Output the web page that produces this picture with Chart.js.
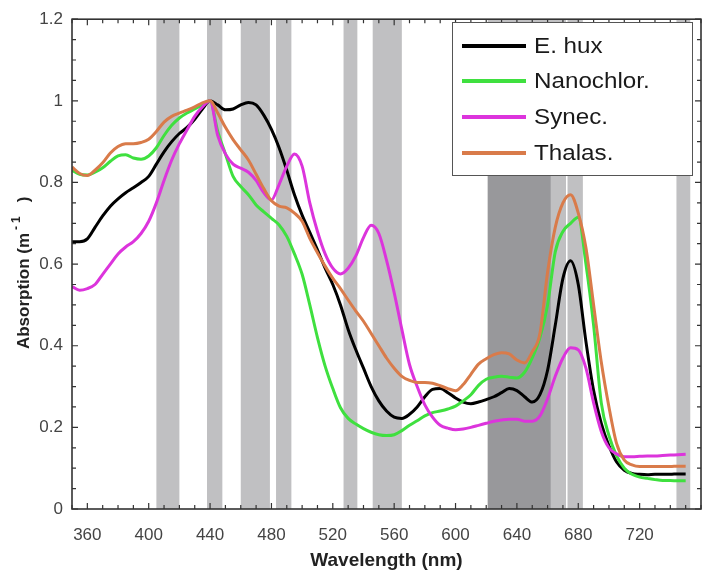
<!DOCTYPE html>
<html>
<head>
<meta charset="utf-8">
<script src="https://cdn.jsdelivr.net/npm/chart.js@4.4.1/dist/chart.umd.min.js"></script>
<style>
html,body{margin:0;padding:0;background:#fff;}
#wrap{width:704px;height:575px;}
</style>
</head>
<body>
<div id="wrap"><canvas id="c" width="704" height="575"></canvas></div>
<script>
// ---------- data ----------
const wavelengths = [
  350,355,360,365,370,375,380,385,390,395,
  400,405,410,415,420,425,430,435,440,445,
  450,455,460,465,470,475,480,485,490,495,
  500,505,510,515,520,525,530,535,540,545,
  550,555,560,565,570,575,580,585,590,595,
  600,605,610,615,620,625,630,635,640,645,
  650,655,660,665,670,675,680,685,690,695,
  700,705,710,715,720,725,730,735,740,745,
  750
];
const eHux = [
  0.655,0.655,0.662,0.690,0.718,0.742,0.760,0.775,0.787,0.800,
  0.815,0.845,0.875,0.900,0.920,0.935,0.955,0.980,1.000,0.990,
  0.978,0.980,0.990,0.996,0.990,0.965,0.930,0.885,0.830,0.770,
  0.720,0.678,0.635,0.590,0.550,0.500,0.440,0.390,0.345,0.300,
  0.265,0.240,0.225,0.222,0.232,0.250,0.275,0.293,0.295,0.285,
  0.272,0.262,0.258,0.262,0.268,0.275,0.285,0.295,0.290,0.275,
  0.262,0.280,0.340,0.450,0.565,0.608,0.550,0.410,0.290,0.210,
  0.155,0.115,0.095,0.087,0.085,0.084,0.085,0.085,0.085,0.086,
  0.086
];
const nanochlor = [
  0.830,0.820,0.818,0.825,0.836,0.852,0.865,0.868,0.860,0.857,
  0.865,0.885,0.915,0.940,0.958,0.970,0.980,0.990,1.000,0.925,
  0.870,0.815,0.790,0.770,0.745,0.728,0.712,0.696,0.668,0.625,
  0.575,0.500,0.420,0.350,0.295,0.248,0.222,0.208,0.197,0.188,
  0.182,0.180,0.182,0.192,0.205,0.216,0.228,0.236,0.240,0.245,
  0.252,0.265,0.280,0.303,0.318,0.323,0.325,0.323,0.321,0.335,
  0.370,0.420,0.500,0.630,0.680,0.700,0.715,0.600,0.450,0.260,
  0.180,0.130,0.100,0.085,0.078,0.075,0.072,0.070,0.070,0.069,
  0.069
];
const synec = [
  0.545,0.536,0.540,0.550,0.575,0.600,0.625,0.642,0.655,0.675,
  0.705,0.750,0.805,0.855,0.895,0.929,0.962,0.985,1.000,0.915,
  0.870,0.845,0.835,0.825,0.805,0.775,0.757,0.795,0.840,0.870,
  0.840,0.750,0.680,0.625,0.590,0.576,0.590,0.620,0.665,0.695,
  0.675,0.610,0.530,0.440,0.354,0.300,0.255,0.225,0.205,0.198,
  0.194,0.196,0.200,0.205,0.210,0.215,0.218,0.220,0.220,0.215,
  0.215,0.228,0.270,0.325,0.370,0.395,0.390,0.345,0.260,0.190,
  0.150,0.135,0.128,0.128,0.129,0.130,0.130,0.131,0.132,0.133,
  0.134
];
const thalas = [
  0.838,0.822,0.817,0.830,0.848,0.872,0.888,0.895,0.895,0.898,
  0.906,0.925,0.948,0.962,0.970,0.977,0.985,0.995,1.000,0.970,
  0.935,0.905,0.880,0.855,0.820,0.785,0.755,0.742,0.738,0.725,
  0.705,0.663,0.628,0.595,0.565,0.540,0.512,0.485,0.460,0.430,
  0.400,0.370,0.345,0.325,0.315,0.310,0.310,0.308,0.302,0.295,
  0.290,0.305,0.330,0.355,0.368,0.378,0.383,0.380,0.365,0.358,
  0.385,0.430,0.580,0.690,0.750,0.770,0.725,0.640,0.500,0.360,
  0.250,0.160,0.120,0.108,0.104,0.104,0.104,0.104,0.104,0.105,
  0.105
];
const seriesNames = ['E. hux','Nanochlor.','Synec.','Thalas.'];
const xTickValues = [360,400,440,480,520,560,600,640,680,720];
const yTickValues = [0,0.2,0.4,0.6,0.8,1,1.2];
const lightBands = [[405,420],[438,448],[460,479],[483,493],[527,536],[546,565],[621,672],[673,683],[744,753]];
const darkBands = [[621,662]];

// ---------- styles ----------
const seriesColors = ['#000000','#3fe03f','#dc34dc','#d97b4a'];
const FONT = '"Liberation Sans", Arial, Helvetica, sans-serif';

const seriesValues = [eHux, nanochlor, synec, thalas];
const datasets = seriesValues.map((vals, i) => ({
  label: seriesNames[i],
  data: wavelengths.map((w, j) => ({x: w, y: vals[j]})),
  borderColor: seriesColors[i],
  backgroundColor: seriesColors[i],
  borderWidth: 3,
  pointRadius: 0,
  fill: false,
  cubicInterpolationMode: 'monotone',
  order: seriesValues.length - i
}));

const bandsPlugin = {
  id: 'bands',
  beforeDatasetsDraw(chart) {
    const {ctx, chartArea: a, scales: {x, y}} = chart;
    ctx.save();
    ctx.beginPath(); ctx.rect(a.left, a.top, a.right - a.left, a.bottom - a.top); ctx.clip();
    ctx.fillStyle = '#c0c0c2';
    for (const [s, e] of lightBands) {
      const x0 = x.getPixelForValue(s), x1 = x.getPixelForValue(e);
      ctx.fillRect(x0, a.top, x1 - x0, a.bottom - a.top);
    }
    ctx.fillStyle = '#98989b';
    const yTop = y.getPixelForValue(1.0);
    for (const [s, e] of darkBands) {
      const x0 = x.getPixelForValue(s), x1 = x.getPixelForValue(e);
      ctx.fillRect(x0, yTop, x1 - x0, a.bottom - yTop);
    }
    ctx.restore();
  }
};

const framePlugin = {
  id: 'frame',
  afterDatasetsDraw(chart) {
    const {ctx, chartArea: a, scales: {x, y}} = chart;
    ctx.save();
    ctx.strokeStyle = '#333';
    ctx.lineWidth = 1.2;
    ctx.beginPath();
    for (let v = 350; v <= 760; v += 10) {
      const px = x.getPixelForValue(v);
      const len = xTickValues.includes(v) ? 6 : 4;
      ctx.moveTo(px, a.bottom); ctx.lineTo(px, a.bottom - len);
      ctx.moveTo(px, a.top); ctx.lineTo(px, a.top + len);
    }
    for (let k = 0; k <= 24; k++) {
      const v = k * 0.05;
      const py = y.getPixelForValue(v);
      const len = (k % 4 === 0) ? 6 : 4;
      ctx.moveTo(a.left, py); ctx.lineTo(a.left + len, py);
      ctx.moveTo(a.right, py); ctx.lineTo(a.right - len, py);
    }
    ctx.stroke();
    ctx.lineWidth = 1.6;
    ctx.strokeRect(a.left, a.top, a.right - a.left, a.bottom - a.top);
    ctx.restore();
  }
};

const legendPlugin = {
  id: 'boxLegend',
  afterDatasetsDraw(chart) {
    const {ctx} = chart;
    const bx = 452, by = 22, bw = 240, bh = 153;
    ctx.save();
    ctx.fillStyle = '#fff';
    ctx.fillRect(bx, by, bw, bh);
    ctx.strokeStyle = '#555';
    ctx.lineWidth = 1;
    ctx.strokeRect(bx + 0.5, by + 0.5, bw, bh);
    const rows = [46, 81, 117, 153];
    chart.data.datasets.forEach((ds, i) => {
      const yy = rows[i];
      ctx.strokeStyle = ds.borderColor;
      ctx.lineWidth = 4;
      ctx.beginPath(); ctx.moveTo(462, yy); ctx.lineTo(526, yy); ctx.stroke();
      ctx.fillStyle = '#1a1a1a';
      ctx.font = '22px ' + FONT;
      ctx.textBaseline = 'middle';
      ctx.textAlign = 'left';
      ctx.save();
      ctx.translate(534, yy);
      ctx.scale(1.1, 1);
      ctx.fillText(ds.label, 0, 1);
      ctx.restore();
    });
    ctx.restore();
  }
};

const yTitlePlugin = {
  id: 'yTitle',
  afterDraw(chart) {
    const {ctx, chartArea: a} = chart;
    ctx.save();
    const cy = (a.top + a.bottom) / 2;
    ctx.translate(24, cy);
    ctx.rotate(-Math.PI / 2);
    ctx.fillStyle = '#222';
    ctx.textBaseline = 'middle';
    ctx.textAlign = 'left';
    const fMain = 'bold 17px ' + FONT;
    const fSup = 'bold 12px ' + FONT;
    let xx = -85;
    ctx.font = fMain;
    const main = 'Absorption (m';
    ctx.fillText(main, xx, 0);
    xx += ctx.measureText(main).width + 3;
    ctx.font = fSup;
    ctx.fillText('-', xx, -7);
    xx += ctx.measureText('-').width + 3;
    ctx.fillText('1', xx, -7);
    xx += ctx.measureText('1').width + 14;
    ctx.font = fMain;
    ctx.fillText(')', xx, 0);
    ctx.restore();
  }
};

new Chart(document.getElementById('c'), {
  type: 'line',
  data: {datasets},
  plugins: [bandsPlugin, framePlugin, legendPlugin, yTitlePlugin],
  options: {
    responsive: false,
    animation: false,
    devicePixelRatio: 1,
    layout: {padding: {top: 15, right: 3, left: 0, bottom: 0}},
    plugins: {legend: {display: false}, tooltip: {enabled: false}},
    scales: {
      x: {
        type: 'linear',
        min: 350, max: 760,
        afterFit(s) { s.height = 66; },
        afterBuildTicks(s) { s.ticks = xTickValues.map(v => ({value: v})); },
        grid: {display: false, drawTicks: false},
        border: {display: false},
        ticks: {
          color: '#444',
          font: {family: FONT, size: 17},
          padding: 16,
          maxRotation: 0,
          autoSkip: false,
          callback: v => String(v)
        },
        title: {
          display: true,
          text: 'Wavelength (nm)',
          color: '#222',
          font: {family: FONT, size: 19, weight: 'bold'},
          padding: {top: 0, bottom: 3}
        }
      },
      y: {
        type: 'linear',
        min: 0, max: 1.2,
        afterFit(s) { s.width = 72; },
        afterBuildTicks(s) { s.ticks = yTickValues.map(v => ({value: v})); },
        grid: {display: false, drawTicks: false},
        border: {display: false},
        ticks: {
          color: '#444',
          font: {family: FONT, size: 17},
          padding: 9,
          autoSkip: false,
          callback: v => String(v)
        }
      }
    }
  }
});
</script>
</body>
</html>
